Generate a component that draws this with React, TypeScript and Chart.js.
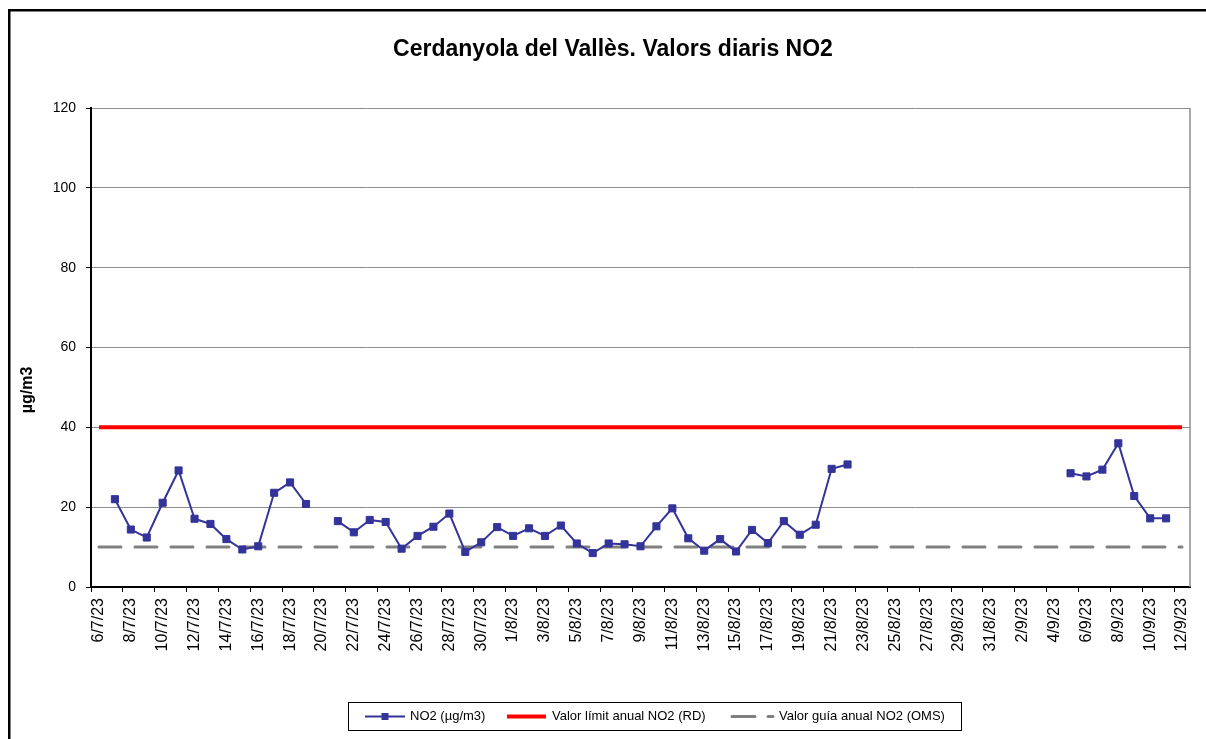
import React, { useEffect, useRef } from "react";
import { Chart, registerables } from "chart.js";

Chart.register(...registerables);

const TITLE = "Cerdanyola del Vallès. Valors diaris NO2";
const Y_TITLE = "µg/m3";

const DATES = [
  "6/7/23", "7/7/23", "8/7/23", "9/7/23", "10/7/23", "11/7/23", "12/7/23", "13/7/23",
  "14/7/23", "15/7/23", "16/7/23", "17/7/23", "18/7/23", "19/7/23", "20/7/23", "21/7/23",
  "22/7/23", "23/7/23", "24/7/23", "25/7/23", "26/7/23", "27/7/23", "28/7/23", "29/7/23",
  "30/7/23", "31/7/23",
  "1/8/23", "2/8/23", "3/8/23", "4/8/23", "5/8/23", "6/8/23", "7/8/23", "8/8/23",
  "9/8/23", "10/8/23", "11/8/23", "12/8/23", "13/8/23", "14/8/23", "15/8/23", "16/8/23",
  "17/8/23", "18/8/23", "19/8/23", "20/8/23", "21/8/23", "22/8/23", "23/8/23", "24/8/23",
  "25/8/23", "26/8/23", "27/8/23", "28/8/23", "29/8/23", "30/8/23", "31/8/23",
  "1/9/23", "2/9/23", "3/9/23", "4/9/23", "5/9/23", "6/9/23", "7/9/23", "8/9/23",
  "9/9/23", "10/9/23", "11/9/23", "12/9/23",
];

// July 6 - July 31
const NO2_JULY = [
  null, 22.0, 14.4, 12.4, 21.1, 29.2, 17.1, 15.8, 12.0, 9.4, 10.2, 23.6, 26.2, 20.8,
  null, 16.5, 13.7, 16.8, 16.3, 9.6, 12.8, 15.1, 18.4, 8.8, 11.2, 15.0,
];
// August 1 - August 31
const NO2_AUGUST = [
  12.8, 14.7, 12.8, 15.4, 10.9, 8.5, 10.9, 10.7, 10.2, 15.2, 19.7, 12.2, 9.1, 12.0,
  8.9, 14.3, 11.0, 16.5, 13.1, 15.6, 29.6, 30.7, null, null, null, null, null, null,
  null, null, null,
];
// September 1 - September 12
const NO2_SEPTEMBER = [
  null, null, null, null, 28.5, 27.7, 29.4, 36.0, 22.8, 17.2, 17.2, null,
];

const NO2 = [...NO2_JULY, ...NO2_AUGUST, ...NO2_SEPTEMBER];

const LIMIT_RD = 40;
const GUIDE_OMS = 10;

const SERIES_NAMES = ["NO2 (µg/m3)", "Valor límit anual NO2 (RD)", "Valor guía anual NO2 (OMS)"];

const Y_MIN = 0;
const Y_MAX = 120;
const Y_STEP = 20;

const BLUE = "#333399";
const RED = "#ff0000";
const GREY = "#808080";
const FONT = '"Liberation Sans", Arial, sans-serif';

const decorPlugin = {
  id: "decor",
  beforeDatasetsDraw(chart: any) {
    const { ctx, chartArea: a } = chart;
    ctx.save();
    ctx.strokeStyle = "#8c8c8c";
    ctx.lineWidth = 1.5;
    ctx.beginPath();
    ctx.moveTo(a.right, a.top);
    ctx.lineTo(a.right, a.bottom);
    ctx.stroke();
    ctx.restore();
  },
  afterDraw(chart: any) {
    const { ctx } = chart;
    ctx.save();
    // outer frame
    ctx.fillStyle = "#000";
    ctx.fillRect(8, 9, 1198, 2.5);
    ctx.fillRect(8, 9, 2.5, 740);

    // title
    ctx.fillStyle = "#000";
    ctx.font = `bold 23px ${FONT}`;
    ctx.textAlign = "center";
    ctx.textBaseline = "middle";
    ctx.fillText(TITLE, 613, 50);

    // y title
    ctx.save();
    ctx.translate(28, 390);
    ctx.rotate(-Math.PI / 2);
    ctx.font = `bold 16px ${FONT}`;
    ctx.fillText(Y_TITLE, 0, 0);
    ctx.restore();

    // legend box
    ctx.strokeStyle = "#000";
    ctx.lineWidth = 1;
    ctx.strokeRect(348.5, 702.5, 613, 28);
    const ly = 716.5;
    ctx.font = `13px ${FONT}`;
    ctx.textAlign = "left";
    ctx.textBaseline = "middle";

    // item 1
    ctx.strokeStyle = BLUE;
    ctx.lineWidth = 2;
    ctx.beginPath();
    ctx.moveTo(365, ly);
    ctx.lineTo(405, ly);
    ctx.stroke();
    ctx.fillStyle = BLUE;
    ctx.fillRect(381.5, ly - 3.5, 7, 7);
    ctx.fillStyle = "#000";
    ctx.fillText(SERIES_NAMES[0], 410, ly);

    // item 2
    ctx.strokeStyle = RED;
    ctx.lineWidth = 4;
    ctx.beginPath();
    ctx.moveTo(507, ly);
    ctx.lineTo(546, ly);
    ctx.stroke();
    ctx.fillText(SERIES_NAMES[1], 552, ly);

    // item 3
    ctx.strokeStyle = GREY;
    ctx.lineWidth = 3;
    ctx.lineCap = "round";
    ctx.beginPath();
    ctx.moveTo(732, ly);
    ctx.lineTo(755, ly);
    ctx.moveTo(768, ly);
    ctx.lineTo(773, ly);
    ctx.stroke();
    ctx.fillText(SERIES_NAMES[2], 779, ly);
    ctx.restore();
  },
};

export default function App() {
  const ref = useRef<HTMLCanvasElement | null>(null);

  useEffect(() => {
    if (!ref.current) return;
    const chart = new Chart(ref.current, {
      type: "line",
      data: {
        labels: DATES,
        datasets: [
          {
            label: SERIES_NAMES[0],
            data: NO2,
            borderColor: BLUE,
            backgroundColor: BLUE,
            borderWidth: 2,
            pointStyle: "rect",
            pointRadius: 5,
            pointBorderWidth: 1,
            pointBorderColor: BLUE,
            pointBackgroundColor: BLUE,
            spanGaps: false,
            tension: 0,
          },
          {
            label: SERIES_NAMES[1],
            data: DATES.map(() => LIMIT_RD),
            borderColor: RED,
            borderWidth: 4,
            pointRadius: 0,
            tension: 0,
          },
          {
            label: SERIES_NAMES[2],
            data: DATES.map(() => GUIDE_OMS),
            borderColor: GREY,
            borderWidth: 3,
            borderDash: [22, 14],
            borderCapStyle: "round",
            pointRadius: 0,
            tension: 0,
          },
        ],
      },
      options: {
        responsive: false,
        animation: false,
        devicePixelRatio: 1,
        layout: { padding: { top: 108, left: 0, right: 16, bottom: 0 } },
        plugins: {
          legend: { display: false },
          title: { display: false },
          tooltip: { enabled: false },
        },
        scales: {
          x: {
            type: "category",
            offset: true,
            afterFit: (scale: any) => {
              scale.height = 152;
              scale.paddingLeft = 0;
              scale.paddingRight = 0;
            },
            grid: {
              offset: true,
              drawOnChartArea: false,
              drawTicks: true,
              tickLength: 5,
              lineWidth: 1,
              color: (c: any) => (c.index !== undefined && c.index % 2 === 0 ? "#000" : "rgba(0,0,0,0)"),
            },
            border: { display: true, color: "#000", width: 2 },
            ticks: {
              autoSkip: false,
              minRotation: 90,
              maxRotation: 90,
              padding: 6,
              color: "#000",
              font: { family: FONT, size: 16 },
              callback: (_v: any, i: number) => (i % 2 === 0 ? DATES[i] : ""),
            },
          },
          y: {
            min: Y_MIN,
            max: Y_MAX,
            afterFit: (scale: any) => {
              scale.width = 91;
            },
            grid: {
              color: "#8c8c8c",
              lineWidth: 1,
              tickLength: 5,
              tickColor: "#000",
            },
            border: { display: true, color: "#000", width: 2 },
            ticks: {
              stepSize: Y_STEP,
              padding: 10,
              color: "#000",
              font: { family: FONT, size: 14 },
            },
          },
        },
      },
      plugins: [decorPlugin],
    });
    return () => chart.destroy();
  }, []);

  return (
    <div style={{ position: "fixed", left: 0, top: 0, width: 1206, height: 739, background: "#fff" }}>
      <canvas ref={ref} width={1206} height={739} style={{ display: "block" }} />
    </div>
  );
}
